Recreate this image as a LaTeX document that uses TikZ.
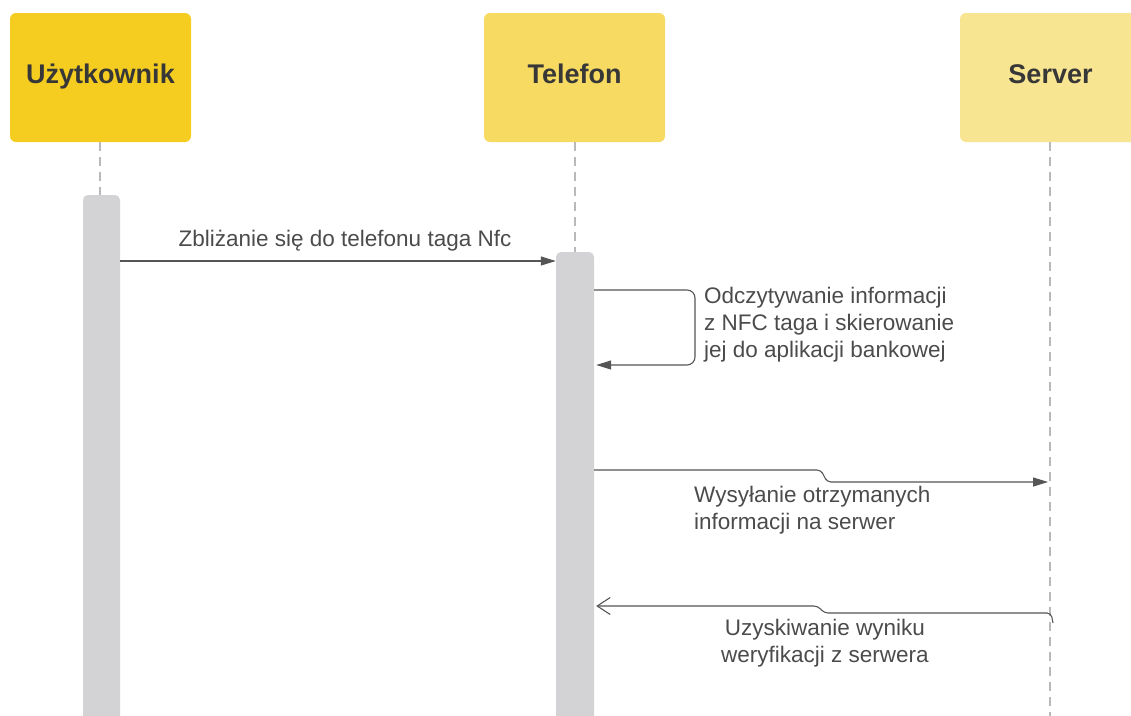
\documentclass[tikz,border=0pt]{standalone}
\usepackage{fontspec}
\setmainfont{Liberation Sans}
\usepackage{tikz}
\usepackage{xcolor}
\usetikzlibrary{arrows.meta,positioning,calc}

\definecolor{userYellow}{RGB}{245,205,32}
\definecolor{phoneYellow}{RGB}{246,218,98}
\definecolor{serverYellow}{RGB}{248,229,145}
\definecolor{barGray}{RGB}{211,211,213}
\definecolor{lineGray}{RGB}{185,185,188}
\definecolor{textDark}{RGB}{55,55,55}
\definecolor{msgGray}{RGB}{85,85,85}

\begin{document}
\begin{tikzpicture}[
    x=1pt, y=-1pt,
    actor/.style={rectangle, rounded corners=6pt, minimum width=181pt, minimum height=129pt, inner sep=0pt, text depth=0pt, font=\fontsize{27}{32}\selectfont\bfseries, text=textDark},
    lifeline/.style={draw=lineGray, line width=1.6pt, dash pattern=on 9pt off 6pt},
    bar/.style={rectangle, fill=barGray, rounded corners=5pt, minimum width=38pt, inner sep=0pt},
    msg/.style={draw=msgGray, line width=1.1pt, -{Triangle[length=15pt,width=9pt]}},
    reply/.style={draw=msgGray, line width=1.1pt, -{Straight Barb[length=13pt,width=17pt]}},
    lbl/.style={font=\fontsize{22.5}{27}\selectfont, text=textDark!90, inner sep=0pt}
]
\useasboundingbox (0,0) rectangle (1131,715);

% Actors
\node[actor, fill=userYellow] (user) at (100.5, 77.5) {};
\node[actor, fill=phoneYellow] (phone) at (574.5, 77.5) {};
\node[actor, fill=serverYellow] (server) at (1050.5, 77.5) {};
\node[actor] (usertext) at (100.5, 74) {Użytkownik};
\node[actor] (phonetext) at (574.5, 74) {Telefon};
\node[actor] (servertext) at (1050.5, 74) {Server};

% Lifelines
\coordinate (userend) at (100, 730);
\coordinate (phoneend) at (575, 730);
\coordinate (serverend) at (1050, 730);
\draw[lifeline] (user.south -| userend) -- (userend);
\draw[lifeline] (phone.south -| phoneend) -- (phoneend);
\draw[lifeline] (server.south -| serverend) -- (serverend);

% Activation bars
\node[bar, minimum width=37pt, minimum height=540pt] (userbar) at (101.5, 465) {};
\node[bar, minimum height=483pt] (phonebar) at (575, 493.5) {};

% Messages
\coordinate (m1) at (0, 261);
\coordinate (s1) at (695, 290);
\coordinate (s2) at (695, 365);
\coordinate (m3) at (1048, 482);
\coordinate (m4) at (1053, 623);

\draw[msg] (userbar.east |- m1) -- (phonebar.west |- m1);
\node[lbl] (lblA) at (345, 241) {Zbliżanie się do telefonu taga Nfc};

\draw[msg, rounded corners=8pt] (phonebar.east |- s1) -- (s1) -- (s2) -- ($(phonebar.east |- s2)+(2,0)$);
\node[lbl, anchor=west, align=left] (lblB) at (704, 325) {Odczytywanie informacji\\z NFC taga i skierowanie\\jej do aplikacji bankowej};

\draw[msg, rounded corners=4pt] (phonebar.east |- 0,470) -- (821, 470) -- (827, 482) -- (m3);
\node[lbl, anchor=west, align=left] (lblC) at (694, 510) {Wysyłanie otrzymanych\\informacji na serwer};

\draw[reply, rounded corners=4pt] (m4) -- (1051, 613) -- (824, 613) -- (818, 606) -- ($(phonebar.east |- 0,606)+(2,0)$);
\node[lbl, align=center] (lblD) at (825, 643) {Uzyskiwanie wyniku\\weryfikacji z serwera};

\end{tikzpicture}
\end{document}
